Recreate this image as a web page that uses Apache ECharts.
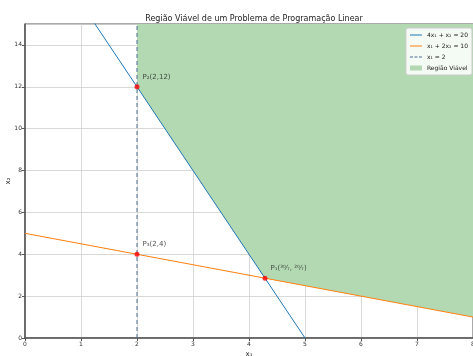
<!DOCTYPE html>
<html><head><meta charset="utf-8">
<script src="https://cdn.jsdelivr.net/npm/echarts@6/dist/echarts.min.js"></script>
<style>html,body{margin:0;padding:0;background:#fff}#c{width:473px;height:356px}</style>
</head><body><div id="c"></div>
<script>
const titleText = 'Região Viável de um Problema de Programação Linear';
const xTicks = [0,1,2,3,4,5,6,7,8];
const yTicks = [0,2,4,6,8,10,12,14];
const line1 = [[0,20],[5,0]];          // 4x1 + x2 = 20
const line2 = [[0,5],[8,1]];           // x1 + 2x2 = 10
const line3 = [[2,0],[2,15]];          // x1 = 2
const regionLower = [[2,12],[30/7,20/7],[8,1]];
const points = [
  {name:'P₂(2,12)', value:[2,12]},
  {name:'P₃(2,4)', value:[2,4]},
  {name:'P₁(³⁰⁄₇, ²⁰⁄₇)', value:[30/7,20/7]}
];
const names = ['4x₁ + x₂ = 20','x₁ + 2x₂ = 10','x₁ = 2','Região Viável'];

const chart = echarts.init(document.getElementById('c'));
const ff = 'DejaVu Sans';
chart.setOption({
  animation:false,
  textStyle:{fontFamily:ff},
  title:{text:titleText,left:249,top:10,textAlign:'center',textStyle:{fontSize:8,fontWeight:'normal',color:'#222',fontFamily:ff}},
  grid:{left:25,right:0,top:24,bottom:18,show:true,borderColor:'#555',borderWidth:1,outerBoundsMode:'none',containLabel:false},
  legend:{
    right:1,top:28,orient:'vertical',itemWidth:12,itemHeight:5,itemGap:5,
    backgroundColor:'rgba(255,255,255,0.85)',borderColor:'#ccc',borderWidth:1,borderRadius:2,padding:[4,4,4,4],
    textStyle:{fontSize:6,color:'#222',fontFamily:ff},
    data:[
      {name:names[0],icon:'path://M0,0L12,0L12,1L0,1Z'},
      {name:names[1],icon:'path://M0,0L12,0L12,1L0,1Z'},
      {name:names[2],icon:'path://M0,0L3,0L3,1L0,1ZM4.5,0L7.5,0L7.5,1L4.5,1ZM9,0L12,0L12,1L9,1Z'},
      {name:names[3],icon:'rect'}
    ]
  },
  xAxis:{type:'value',min:0,max:8,interval:1,
    name:'x₁',nameLocation:'middle',nameGap:13,nameMoveOverlap:false,nameTextStyle:{fontSize:7,color:'#222'},
    axisLine:{show:true,onZero:false,lineStyle:{color:'#555',width:1.5}},
    axisTick:{show:true,length:3,lineStyle:{color:'#555'}},
    axisLabel:{fontSize:6,color:'#333',margin:3},
    splitLine:{show:true,lineStyle:{color:'#cfcfcf',width:0.8}}},
  yAxis:{type:'value',min:0,max:15,interval:2,
    name:'x₂',nameLocation:'middle',nameGap:13,nameMoveOverlap:false,nameTextStyle:{fontSize:7,color:'#222'},
    axisLine:{show:true,onZero:false,lineStyle:{color:'#555',width:1.5}},
    axisTick:{show:true,length:3,lineStyle:{color:'#555'}},
    axisLabel:{fontSize:6,color:'#333',margin:3,showMaxLabel:false},
    splitLine:{show:true,lineStyle:{color:'#cfcfcf',width:0.8}}},
  series:[
    {name:names[3],type:'line',data:regionLower,symbol:'none',z:1,
      itemStyle:{color:'#b3d9b3'},
      lineStyle:{width:0,color:'#b3d9b3'},areaStyle:{origin:'end',color:'#b3d9b3',opacity:1}},
    {name:names[0],type:'line',data:line1,symbol:'none',clip:true,z:3,
      itemStyle:{color:'#1f77b4'},lineStyle:{color:'#1f77b4',width:1}},
    {name:names[1],type:'line',data:line2,symbol:'none',clip:true,z:3,
      itemStyle:{color:'#ff7f0e'},lineStyle:{color:'#ff7f0e',width:1}},
    {name:names[2],type:'line',data:line3,symbol:'none',clip:true,z:3,
      itemStyle:{color:'#4a6d8f'},lineStyle:{color:'#4a6d8f',width:1,type:[4,3]}},
    {type:'scatter',data:points,symbol:'circle',symbolSize:5,z:5,
      itemStyle:{color:'#ff0000'},
      label:{show:true,formatter:p=>p.name,position:'right',offset:[-2,-10],fontSize:7,color:'#222',fontFamily:ff}}
  ]
});
</script></body></html>
